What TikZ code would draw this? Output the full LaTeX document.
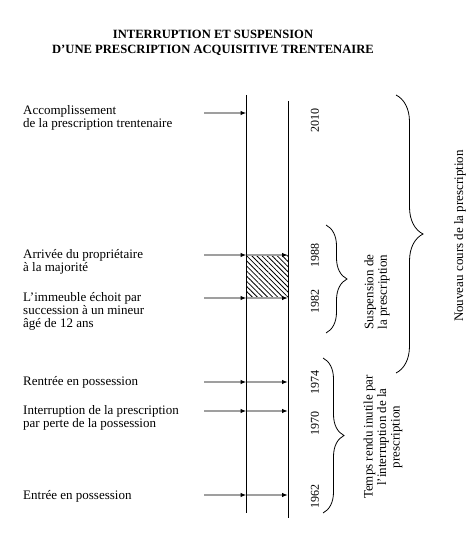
\documentclass[tikz,border=0pt]{standalone}
\usepackage{fontspec}
\setmainfont{Liberation Serif}
\usetikzlibrary{arrows.meta,patterns.meta,decorations.pathreplacing}
\pgfdeclarelayer{edgelayer}
\pgfdeclarelayer{nodelayer}
\pgfsetlayers{edgelayer,nodelayer,main}
\tikzstyle{none}=[inner sep=0pt]
\tikzstyle{title}=[inner sep=0pt, align=center, font=\bfseries\fontsize{12.6}{15}\selectfont]
\tikzstyle{event}=[inner sep=0pt, anchor=north west, align=left, font=\fontsize{13}{13}\selectfont]
\tikzstyle{year}=[inner sep=0pt, rotate=90, font=\fontsize{12}{13}\selectfont]
\tikzstyle{note}=[inner sep=0pt, rotate=90, align=center, font=\fontsize{13}{13.5}\selectfont]
\tikzstyle{timeline}=[draw=black, line width=1pt]
\tikzstyle{arrow}=[draw=gray!75, line width=1.3pt, -{Latex[black,length=6pt,width=4.5pt]}]
\tikzstyle{hatch}=[pattern={Lines[angle=-45,distance=3.6pt,line width=0.8pt]}]
\tikzstyle{brace}=[draw=black, line width=0.8pt, decorate, decoration={brace,amplitude=21pt}]
\tikzstyle{wide brace}=[brace, decoration={brace,amplitude=27pt}]

\begin{document}
\begin{tikzpicture}[x=1pt, y=-1pt]
	\useasboundingbox (0,0) rectangle (472,559);
	\begin{pgfonlayer}{nodelayer}
		\coordinate (0) at (246.5, 95);
		\coordinate (1) at (246.5, 513);
		\coordinate (2) at (288, 101);
		\coordinate (3) at (288, 518);
		\coordinate (4) at (204, 113);
		\coordinate (5) at (204, 255);
		\coordinate (6) at (204, 298);
		\coordinate (7) at (204, 382);
		\coordinate (8) at (204, 411);
		\coordinate (9) at (204, 495);
		\coordinate (10) at (246.5, 113);
		\coordinate (11) at (246.5, 255);
		\coordinate (12) at (246.5, 298);
		\coordinate (13) at (246.5, 382);
		\coordinate (14) at (246.5, 411);
		\coordinate (15) at (246.5, 495);
		\coordinate (16) at (288, 255);
		\coordinate (17) at (288, 298);
		\coordinate (18) at (288, 382);
		\coordinate (19) at (288, 411);
		\coordinate (20) at (288, 495);
		\node [style=event] (21) at (23, 105) {Accomplissement\\de la prescription trentenaire};
		\node [style=event] (22) at (23, 249) {Arrivée du propriétaire\\à la majorité};
		\node [style=event] (23) at (23, 292) {L’immeuble échoit par\\succession à un mineur\\âgé de 12 ans};
		\node [style=event] (24) at (23, 376.5) {Rentrée en possession};
		\node [style=event] (25) at (23, 405.5) {Interruption de la prescription\\par perte de la possession};
		\node [style=event] (26) at (23, 490) {Entrée en possession};
		\node [style=year] (27) at (315, 120) {2010};
		\node [style=year] (28) at (315, 255) {1988};
		\node [style=year] (29) at (315, 301) {1982};
		\node [style=year] (30) at (315, 382) {1974};
		\node [style=year] (31) at (315, 423) {1970};
		\node [style=year] (32) at (315, 496) {1962};
		\coordinate (33) at (326, 225);
		\coordinate (34) at (326, 333);
		\coordinate (35) at (323, 358);
		\coordinate (36) at (323, 513);
		\coordinate (37) at (396, 95);
		\coordinate (38) at (396, 373);
		\node [style=note] (39) at (377, 292) {Suspension de\\la prescription};
		\node [style=note] (40) at (383, 437) {Temps rendu inutile par\\l’interruption de la\\prescription};
		\node [style=note] (41) at (460, 236) {Nouveau cours de la prescription};
		\node [style=title] (42) at (213, 42.5) {INTERRUPTION ET SUSPENSION\\D’UNE PRESCRIPTION ACQUISITIVE TRENTENAIRE};
	\end{pgfonlayer}
	\begin{pgfonlayer}{edgelayer}
		\fill [style=hatch] (11) rectangle (17);
		\draw [style=timeline] (0) to (1);
		\draw [style=timeline] (2) to (3);
		\draw [style=arrow] (4) to (10);
		\draw [style=arrow] (5) to (11);
		\draw [style=arrow] (6) to (12);
		\draw [style=arrow] (7) to (13);
		\draw [style=arrow] (8) to (14);
		\draw [style=arrow] (9) to (15);
		\draw [style=arrow] (11) to (16);
		\draw [style=arrow] (12) to (17);
		\draw [style=arrow] (13) to (18);
		\draw [style=arrow] (14) to (19);
		\draw [style=arrow] (15) to (20);
		\draw [style=brace] (33) to (34);
		\draw [style=brace] (35) to (36);
		\draw [style=wide brace] (37) to (38);
	\end{pgfonlayer}
\end{tikzpicture}
\end{document}
